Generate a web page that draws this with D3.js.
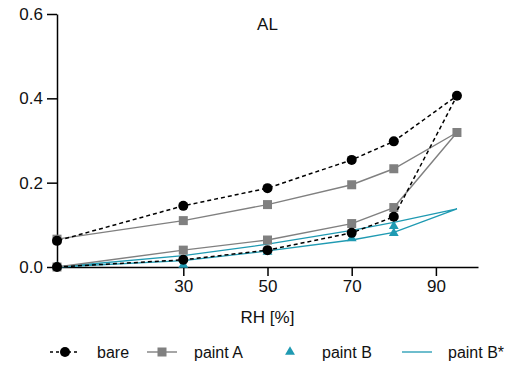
<!DOCTYPE html>
<html>
<head>
<meta charset="utf-8">
<script src="https://cdn.jsdelivr.net/npm/d3@7"></script>
<style>
  body { margin: 0; background: #fff; }
  text { font-family: "Liberation Sans", Arial, sans-serif; fill: #111; }
</style>
</head>
<body>
<div id="chart"></div>
<script>
// RH steps go up to 95 and back down (hysteresis loop)
var rhLoop = [0, 30, 50, 70, 80, 95, 80, 70, 50, 30, 0];
var bare = [0, 0.017, 0.04, 0.081, 0.119, 0.406, 0.298, 0.254, 0.187, 0.145, 0.062];
var paintA = [0, 0.04, 0.064, 0.103, 0.141, 0.319, 0.233, 0.195, 0.148, 0.11, 0.066];
var paintBStar = [0, 0.015, 0.038, 0.064, 0.082, 0.138, 0.106, 0.087, 0.054, 0.027, 0];
var rhB = [0, 30, 50, 70, 80, 80];
var paintB = [0, 0.005, 0.036, 0.068, 0.08, 0.097];
var xTicks = [30, 50, 70, 90];
var yTicks = [0, 0.2, 0.4, 0.6];
var legendLabels = ["bare", "paint A", "paint B", "paint B*"];

var svgWidth = 516, svgHeight = 369;
var margin = { top: 14, right: 38, bottom: 102, left: 57 };
var width = svgWidth - margin.left - margin.right;
var height = svgHeight - margin.top - margin.bottom;

var teal = "#1f9ab2", gray = "#808080";

var svg = d3.select("#chart").append("svg")
    .attr("width", svgWidth)
    .attr("height", svgHeight);

var g = svg.append("g")
    .attr("transform", `translate(${margin.left}, ${margin.top})`);

var x = d3.scaleLinear().domain([0, 100]).range([0, width]);
var y = d3.scaleLinear().domain([0, 0.6]).range([height, 0]);

// axes
var xAxis = g.append("g")
    .attr("transform", `translate(0, ${height})`)
    .call(d3.axisBottom(x).tickValues(xTicks).tickSize(9).tickPadding(4).tickSizeOuter(0));
var yAxis = g.append("g")
    .call(d3.axisLeft(y).tickValues(yTicks).tickFormat(d3.format(".1f")).tickSize(10).tickPadding(4).tickSizeOuter(0));

[xAxis, yAxis].forEach(function (a) {
  a.select(".domain").attr("stroke", "#000").attr("stroke-width", 1.5);
  a.selectAll(".tick line").attr("stroke", "#000").attr("stroke-width", 1.5);
  a.selectAll(".tick text").attr("font-size", "17px").attr("fill", "#111")
    .attr("font-family", "Liberation Sans, Arial, sans-serif");
});

var line = d3.line()
    .x(function (d) { return x(d[0]); })
    .y(function (d) { return y(d[1]); });

function pairs(xs, ys) { return xs.map(function (v, i) { return [v, ys[i]]; }); }

// paint B* line
g.append("path")
    .datum(pairs(rhLoop, paintBStar))
    .attr("d", line).attr("fill", "none")
    .attr("stroke", teal).attr("stroke-width", 1.3);

// paint B triangles
var tri = d3.symbol().type(d3.symbolTriangle).size(42);
g.selectAll(".triB")
    .data(pairs(rhB, paintB))
    .enter().append("path")
    .attr("class", "triB")
    .attr("d", tri)
    .attr("transform", function (d) { return `translate(${x(d[0])}, ${y(d[1])})`; })
    .attr("fill", teal);

// paint A
g.append("path")
    .datum(pairs(rhLoop, paintA))
    .attr("d", line).attr("fill", "none")
    .attr("stroke", gray).attr("stroke-width", 1.4);
g.selectAll(".sqA")
    .data(pairs(rhLoop, paintA))
    .enter().append("rect")
    .attr("class", "sqA")
    .attr("x", function (d) { return x(d[0]) - 4.5; })
    .attr("y", function (d) { return y(d[1]) - 4.5; })
    .attr("width", 9).attr("height", 9)
    .attr("fill", gray);

// bare
g.append("path")
    .datum(pairs(rhLoop, bare))
    .attr("d", line).attr("fill", "none")
    .attr("stroke", "#000").attr("stroke-width", 1.5)
    .attr("stroke-dasharray", "4,3");
g.selectAll(".cBare")
    .data(pairs(rhLoop, bare))
    .enter().append("circle")
    .attr("class", "cBare")
    .attr("cx", function (d) { return x(d[0]); })
    .attr("cy", function (d) { return y(d[1]); })
    .attr("r", 5)
    .attr("fill", "#000");

// title
g.append("text")
    .attr("x", x(50)).attr("y", 16)
    .attr("text-anchor", "middle")
    .attr("font-size", "17px")
    .text("AL");

// x label
g.append("text")
    .attr("x", x(50)).attr("y", height + 56)
    .attr("text-anchor", "middle")
    .attr("font-size", "17px")
    .text("RH [%]");

// legend
var legY = 352;
var legItems = [
  { x0: 50, tx: 97 },
  { x0: 147, tx: 194 },
  { x0: 275, tx: 322 },
  { x0: 402, tx: 448 }
];
var leg = svg.append("g");
legItems.forEach(function (it, i) {
  var cx = it.x0 + 15;
  if (i === 0) {
    leg.append("line").attr("x1", it.x0).attr("x2", it.x0 + 30).attr("y1", legY).attr("y2", legY)
      .attr("stroke", "#000").attr("stroke-width", 1.5).attr("stroke-dasharray", "3,3");
    leg.append("circle").attr("cx", cx).attr("cy", legY).attr("r", 5).attr("fill", "#000");
  } else if (i === 1) {
    leg.append("line").attr("x1", it.x0).attr("x2", it.x0 + 30).attr("y1", legY).attr("y2", legY)
      .attr("stroke", gray).attr("stroke-width", 1.4);
    leg.append("rect").attr("x", cx - 4.5).attr("y", legY - 4.5).attr("width", 9).attr("height", 9).attr("fill", gray);
  } else if (i === 2) {
    leg.append("path").attr("d", tri).attr("transform", `translate(${cx}, ${legY})`).attr("fill", teal);
  } else {
    leg.append("line").attr("x1", it.x0).attr("x2", it.x0 + 30).attr("y1", legY).attr("y2", legY)
      .attr("stroke", teal).attr("stroke-width", 1.3);
  }
  leg.append("text").attr("x", it.tx).attr("y", legY + 5.5)
    .attr("font-size", "16px")
    .text(legendLabels[i]);
});
</script>
</body>
</html>
